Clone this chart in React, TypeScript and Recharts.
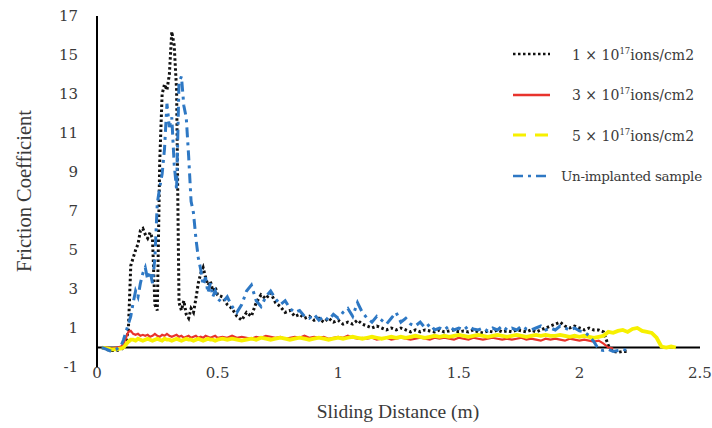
import React from 'react';
import { LineChart, Line, XAxis, YAxis, ReferenceLine } from 'recharts';

// Sliding distance (m) sampled along the wear track
const distance = [
  0.02, 0.04, 0.06, 0.08, 0.1,
  0.11, 0.12, 0.13, 0.14, 0.15, 0.16, 0.17, 0.18, 0.19, 0.2,
  0.21, 0.22, 0.23, 0.24, 0.25, 0.26, 0.27, 0.28, 0.29, 0.3,
  0.31, 0.32, 0.33, 0.34, 0.35, 0.36, 0.37, 0.38, 0.39, 0.4,
  0.41, 0.42, 0.43, 0.44, 0.45, 0.46, 0.47, 0.48, 0.49, 0.5,
  0.52, 0.54, 0.56, 0.58, 0.6, 0.62, 0.64, 0.66, 0.68, 0.7,
  0.72, 0.74, 0.76, 0.78, 0.8, 0.82, 0.84, 0.86, 0.88, 0.9,
  0.92, 0.94, 0.96, 0.98, 1.0, 1.02, 1.04, 1.06, 1.08, 1.1,
  1.12, 1.14, 1.16, 1.18, 1.2, 1.22, 1.24, 1.26, 1.28, 1.3,
  1.32, 1.34, 1.36, 1.38, 1.4, 1.42, 1.44, 1.46, 1.48, 1.5,
  1.52, 1.54, 1.56, 1.58, 1.6, 1.62, 1.64, 1.66, 1.68, 1.7,
  1.72, 1.74, 1.76, 1.78, 1.8, 1.82, 1.84, 1.86, 1.88, 1.9,
  1.92, 1.94, 1.96, 1.98, 2.0, 2.02, 2.04, 2.06, 2.08, 2.1,
  2.12, 2.14, 2.16, 2.18, 2.2, 2.22, 2.24, 2.26, 2.28, 2.3,
  2.32, 2.34, 2.36, 2.38, 2.4,
];

// Friction coefficient, 1 × 10^17 ions/cm2
const dose1 = [
  0, -0.1, -0.15, -0.15, -0.1,
  0.0, 0.3, 0.9, 4.2, 4.6, 5.0, 5.3, 6.0, 6.1, 5.8,
  5.6, 5.9, 5.6, 2.2, 1.9, 9.5, 13.0, 13.5, 13.2, 14.0,
  16.2, 15.5, 13.2, 2.3, 1.9, 2.4, 1.7, 1.5, 2.0, 1.8,
  2.5, 3.3, 3.8, 4.1, 3.6, 3.2, 3.4, 2.9, 3.1, 2.7,
  2.6, 2.2, 2.0, 1.6, 1.4, 1.8, 1.6, 2.3, 2.7, 2.5,
  2.8, 2.3, 2.1, 1.8, 1.9, 1.6, 1.7, 1.5, 1.6, 1.4,
  1.5, 1.3, 1.5, 1.3, 1.4, 1.2, 1.3, 1.2, 1.4, 1.2,
  1.1, 1.0, 1.1, 1.0, 0.9, 1.0, 0.9, 1.0, 0.9, 0.8,
  0.9, 0.8, 0.9, 0.85, 0.8, 0.9, 0.8, 0.85, 0.9, 0.8,
  0.85, 0.8, 0.9, 0.8, 0.75, 0.85, 0.8, 0.9, 0.8, 0.85,
  0.8, 0.9, 0.85, 0.8, 0.9, 0.8, 0.9, 1.0, 1.1, 1.2,
  1.3, 1.1, 1.0, 1.1, 1.0, 0.9, 1.0, 0.9, 0.9, 0.8,
  0.1, -0.2, -0.25, -0.2, -0.2, null, null, null, null, null,
  null, null, null, null, null,
];

// Friction coefficient, 3 × 10^17 ions/cm2
const dose3 = [
  0, 0, -0.05, 0, 0.05,
  0.2, 0.5, 0.8, 0.85, 0.7, 0.65, 0.7, 0.6, 0.65, 0.6,
  0.65, 0.55, 0.6, 0.7, 0.6, 0.55, 0.65, 0.6, 0.7, 0.6,
  0.55, 0.6, 0.65, 0.55, 0.6, 0.5, 0.55, 0.6, 0.5, 0.55,
  0.6, 0.5, 0.55, 0.5, 0.6, 0.55, 0.5, 0.55, 0.6, 0.5,
  0.55, 0.5, 0.6, 0.5, 0.55, 0.5, 0.45, 0.55, 0.5, 0.6,
  0.55, 0.5, 0.55, 0.45, 0.5, 0.55, 0.5, 0.6, 0.5, 0.55,
  0.5, 0.55, 0.45, 0.5, 0.55, 0.5, 0.6, 0.5, 0.45, 0.5,
  0.45, 0.5, 0.4, 0.45, 0.5, 0.4, 0.45, 0.5, 0.45, 0.4,
  0.45, 0.5, 0.45, 0.4, 0.5, 0.45, 0.5, 0.45, 0.4, 0.5,
  0.45, 0.4, 0.5, 0.45, 0.4, 0.45, 0.5, 0.45, 0.4, 0.45,
  0.4, 0.45, 0.5, 0.4, 0.45, 0.4, 0.35, 0.45, 0.4, 0.45,
  0.4, 0.35, 0.45, 0.4, 0.35, 0.4, 0.35, 0.3, 0.35, 0.2,
  0.0, -0.05, null, null, null, null, null, null, null, null,
  null, null, null, null, null,
];

// Friction coefficient, 5 × 10^17 ions/cm2
const dose5 = [
  0, -0.05, -0.1, -0.1, -0.05,
  0.0, 0.15, 0.3, 0.4, 0.4, 0.35, 0.45, 0.4, 0.35, 0.4,
  0.45, 0.4, 0.35, 0.4, 0.45, 0.4, 0.35, 0.45, 0.4, 0.4,
  0.35, 0.4, 0.45, 0.4, 0.35, 0.4, 0.45, 0.4, 0.4, 0.35,
  0.4, 0.45, 0.4, 0.35, 0.4, 0.45, 0.4, 0.4, 0.35, 0.4,
  0.45, 0.4, 0.45, 0.4, 0.35, 0.4, 0.45, 0.4, 0.5, 0.45,
  0.4, 0.45, 0.5, 0.45, 0.4, 0.45, 0.5, 0.45, 0.4, 0.45,
  0.5, 0.45, 0.4, 0.45, 0.5, 0.45, 0.5, 0.55, 0.5, 0.45,
  0.5, 0.55, 0.5, 0.45, 0.5, 0.55, 0.5, 0.55, 0.5, 0.55,
  0.6, 0.55, 0.5, 0.55, 0.6, 0.55, 0.6, 0.55, 0.6, 0.65,
  0.6, 0.55, 0.6, 0.65, 0.6, 0.55, 0.6, 0.65, 0.6, 0.55,
  0.6, 0.65, 0.6, 0.55, 0.6, 0.65, 0.6, 0.65, 0.6, 0.6,
  0.65, 0.6, 0.55, 0.6, 0.55, 0.6, 0.55, 0.5, 0.55, 0.6,
  0.8, 0.75, 0.85, 0.9, 0.8, 0.95, 1.0, 0.85, 0.8, 0.75,
  0.5, 0.05, 0.0, 0.05, 0.0,
];

// Friction coefficient, un-implanted sample
const unimplanted = [
  0, -0.1, -0.2, -0.1, 0.1,
  0.4, 0.8, 1.2, 1.6, 2.3, 2.9, 2.6, 3.3, 3.8, 4.1,
  3.5, 3.9, 3.3, 4.6, 7.4, 8.2, 8.9, 10.2, 12.5, 11.3,
  11.8, 9.4, 8.1, 13.6, 13.9, 12.4, 11.8, 9.8, 7.5, 6.9,
  5.6, 4.6, 4.0, 3.2, 3.6, 2.8, 3.3, 2.6, 2.9, 2.5,
  2.3, 2.6, 2.1, 1.8, 2.2, 2.9, 3.2, 2.4, 2.1, 2.6,
  2.9, 2.5, 2.2, 2.4, 2.0, 1.8, 1.9, 1.6, 1.5, 1.7,
  1.4, 1.6, 1.4, 1.7, 1.5, 1.8, 2.0, 1.6, 2.3, 1.8,
  1.5, 1.3, 1.6, 1.4, 1.2, 1.5, 1.8, 1.3, 1.5, 1.2,
  1.1, 1.3, 1.0, 1.2, 0.9, 1.0, 0.9, 1.1, 0.9, 1.0,
  0.9, 1.1, 0.95, 0.9, 1.0, 0.85, 1.0, 0.9, 1.1, 0.9,
  1.0, 0.9, 1.1, 0.95, 0.9, 1.0, 1.1, 0.9, 1.0, 0.9,
  1.1, 1.0, 0.9, 1.0, 0.85, 0.8, 0.6, 0.3, -0.1, -0.15,
  -0.1, -0.2, -0.15, -0.1, -0.15, null, null, null, null, null,
  null, null, null, null, null,
];

const xTicks = [0, 0.5, 1, 1.5, 2, 2.5];
const yTicks = [-1, 1, 3, 5, 7, 9, 11, 13, 15, 17];

const rows = distance.map((d, i) => ({
  d,
  dose1: dose1[i],
  dose3: dose3[i],
  dose5: dose5[i],
  unimplanted: unimplanted[i],
}));

const series = [
  { key: 'dose1', color: '#111111', width: 3, dash: '2.5 2.5', legendDash: '2.5 2.5', base: '1', label: 'ions/cm2' },
  { key: 'dose3', color: '#e8332c', width: 2.2, dash: undefined, legendDash: undefined, base: '3', label: 'ions/cm2' },
  { key: 'dose5', color: '#f7f000', width: 3.8, dash: undefined, legendDash: '13 9', base: '5', label: 'ions/cm2' },
  { key: 'unimplanted', color: '#2e78c4', width: 3, dash: '10 5 3 5', legendDash: '10 5 3 5', base: '', label: 'Un-implanted sample' },
];

const tickFont = { fill: '#3a3a3a', fontSize: 15, fontFamily: 'DejaVu Serif' };

const XTitle = () => (
  <text x={398} y={418} textAnchor="middle" fill="#3a3a3a" fontSize={19.5} fontFamily="Liberation Serif">
    Sliding Distance (m)
  </text>
);

const YTitle = () => (
  <text
    x={31}
    y={191}
    transform="rotate(-90 31 191)"
    textAnchor="middle"
    fill="#3a3a3a"
    fontSize={20.5}
    fontFamily="Liberation Serif"
  >
    Friction Coefficient
  </text>
);

const Legend = () => (
  <div style={{ position: 'absolute', left: 512, top: 34, width: 240 }}>
    {series.map((s) => (
      <div key={s.key} style={{ display: 'flex', alignItems: 'center', height: 40.5 }}>
        <svg width={40} height={10} style={{ flex: 'none' }}>
          <line x1={1} y1={5} x2={38} y2={5} stroke={s.color} strokeWidth={s.key === 'dose5' ? 3 : 2.5} strokeDasharray={s.legendDash} />
        </svg>
        <span
          style={{
            marginLeft: s.base ? 20 : 9,
            fontFamily: 'DejaVu Serif',
            fontSize: s.base ? 14 : 13.5,
            letterSpacing: s.base ? 0 : -0.3,
            color: '#3a3a3a',
            whiteSpace: 'nowrap',
          }}
        >
          {s.base ? (
            <>
              {s.base} × 10<sup style={{ fontSize: 8.5 }}>17</sup>
              {s.label}
            </>
          ) : (
            s.label
          )}
        </span>
      </div>
    ))}
  </div>
);

export default function App() {
  return (
    <div style={{ position: 'absolute', left: 0, top: 0, width: 712, height: 428, background: '#fff', overflow: 'hidden' }}>
      <LineChart width={712} height={428} data={rows} margin={{ top: 16, right: 12, left: 37, bottom: 31 }}>
        <XAxis
          type="number"
          dataKey="d"
          domain={[0, 2.5]}
          ticks={xTicks}
          interval={0}
          axisLine={false}
          tickLine={false}
          tickSize={0}
          tickMargin={0}
          height={30}
          tick={tickFont}
          label={<XTitle />}
        />
        <YAxis
          type="number"
          domain={[-1, 17]}
          ticks={yTicks}
          interval={0}
          axisLine={{ stroke: '#000', strokeWidth: 2 }}
          tickLine={false}
          tickSize={0}
          tickMargin={19}
          width={60}
          tick={tickFont}
          label={<YTitle />}
        />
        <ReferenceLine y={0} stroke="#000" strokeWidth={2} />
        {series.map((s) => (
          <Line
            key={s.key}
            type="linear"
            dataKey={s.key}
            stroke={s.color}
            strokeWidth={s.width}
            strokeDasharray={s.dash}
            dot={false}
            activeDot={false}
            isAnimationActive={false}
            connectNulls={false}
          />
        ))}
      </LineChart>
      <Legend />
    </div>
  );
}
